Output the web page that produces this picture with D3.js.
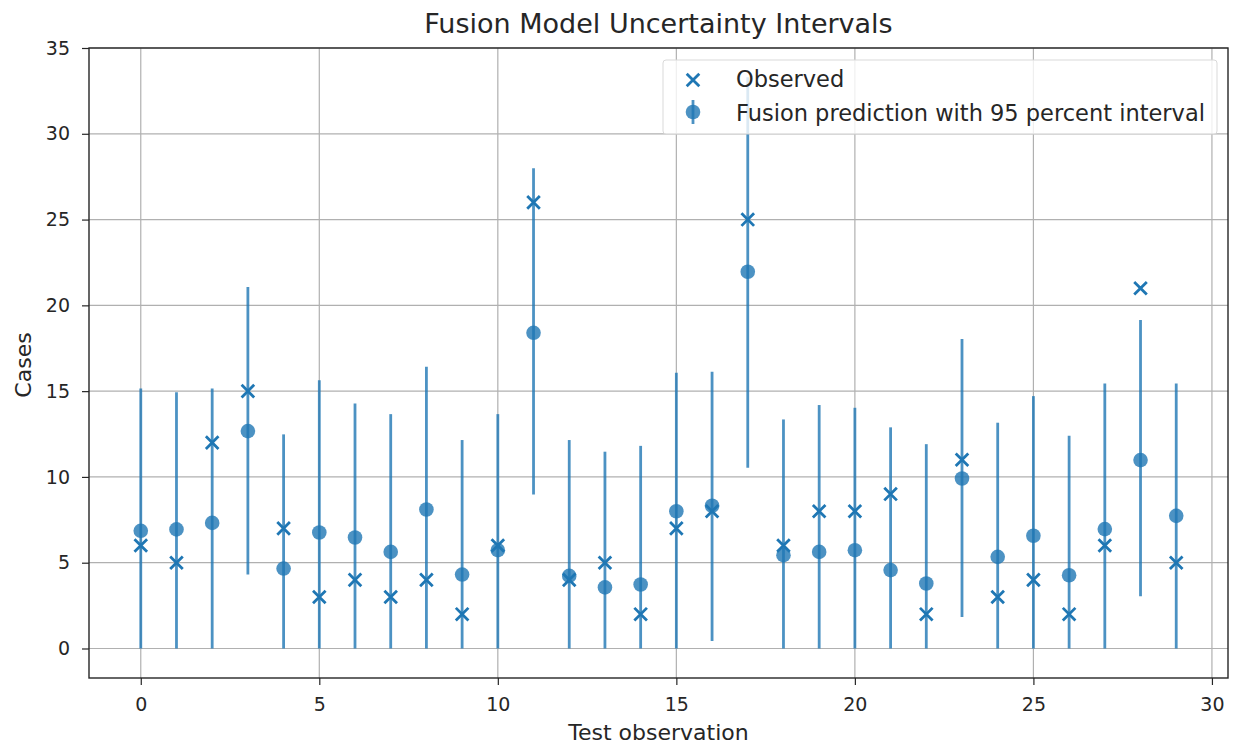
<!DOCTYPE html>
<html>
<head>
<meta charset="utf-8">
<script src="https://cdn.jsdelivr.net/npm/d3@7"></script>
<style>
  body { margin: 0; background: #fff; }
  svg text { font-family: "DejaVu Sans", sans-serif; fill: #262626; }
</style>
</head>
<body>
<div id="chart"></div>
<script>
// Dados
const obsIndex = d3.range(30);
const observed = [6, 5, 12, 15, 7, 3, 4, 3, 4, 2, 6, 26, 4, 5, 2, 7, 8, 25, 6, 8, 8, 9, 2, 11, 3, 4, 2, 6, 21, 5];
const predicted = [6.86, 6.94, 7.32, 12.67, 4.66, 6.76, 6.47, 5.63, 8.1, 4.31, 5.73, 18.4, 4.23, 3.56, 3.73, 8.0, 8.32, 21.96, 5.44, 5.63, 5.73, 4.57, 3.79, 9.91, 5.34, 6.57, 4.27, 6.96, 10.98, 7.73];
const lower = [0, 0, 0, 4.31, 0, 0, 0, 0, 0, 0, 0, 8.98, 0, 0, 0, 0, 0.44, 10.53, 0, 0, 0, 0, 0, 1.84, 0, 0, 0, 0, 3.05, 0];
const upper = [15.16, 14.93, 15.16, 21.07, 12.48, 15.64, 14.28, 13.66, 16.42, 12.15, 13.66, 27.99, 12.15, 11.47, 11.81, 16.07, 16.13, 33.3, 13.35, 14.19, 14.03, 12.89, 11.91, 18.04, 13.16, 14.71, 12.4, 15.45, 19.14, 15.45];
const xTicks = [0, 5, 10, 15, 20, 25, 30];
const yTicks = [0, 5, 10, 15, 20, 25, 30, 35];

const blue = "#1f77b4";

// Definições do gráfico
const W = 1233, H = 746;
const margin = { top: 48, right: 5, bottom: 68, left: 89 };
const width = W - margin.left - margin.right;
const height = H - margin.top - margin.bottom;

const svg = d3.select("#chart")
    .append("svg")
    .attr("width", W)
    .attr("height", H);

const g = svg.append("g")
    .attr("transform", `translate(${margin.left},${margin.top})`);

// Escalas
const x = d3.scaleLinear().domain([-1.45, 30.45]).range([0, width]);
const y = d3.scaleLinear().domain([-1.72, 35]).range([height, 0]);

// Grade
g.append("g")
    .selectAll("line")
    .data(xTicks)
    .join("line")
    .attr("x1", d => x(d)).attr("x2", d => x(d))
    .attr("y1", 0).attr("y2", height)
    .attr("stroke", "#b0b0b0").attr("stroke-width", 1.2);

g.append("g")
    .selectAll("line")
    .data(yTicks)
    .join("line")
    .attr("x1", 0).attr("x2", width)
    .attr("y1", d => y(d)).attr("y2", d => y(d))
    .attr("stroke", "#b0b0b0").attr("stroke-width", 1.2);

const data = obsIndex.map((i) => ({
    i, obs: observed[i], pred: predicted[i], lo: lower[i], hi: upper[i]
}));

// Barras de erro
g.append("g")
    .selectAll("line")
    .data(data)
    .join("line")
    .attr("x1", d => x(d.i)).attr("x2", d => x(d.i))
    .attr("y1", d => y(d.lo)).attr("y2", d => y(d.hi))
    .attr("stroke", blue).attr("stroke-opacity", 0.8)
    .attr("stroke-width", 2.8);

// Pontos previstos
g.append("g")
    .selectAll("circle")
    .data(data)
    .join("circle")
    .attr("cx", d => x(d.i))
    .attr("cy", d => y(d.pred))
    .attr("r", 7.3)
    .attr("fill", blue).attr("fill-opacity", 0.8);

// Observados (x)
const s = 6.3;
g.append("g")
    .selectAll("path")
    .data(data)
    .join("path")
    .attr("d", d => {
        const cx = x(d.i), cy = y(d.obs);
        return `M${cx - s},${cy - s}L${cx + s},${cy + s}M${cx - s},${cy + s}L${cx + s},${cy - s}`;
    })
    .attr("stroke", blue).attr("stroke-width", 2.8)
    .attr("fill", "none");

// Eixos
const xAxis = d3.axisBottom(x).tickValues(xTicks).tickSize(7).tickPadding(13).tickFormat(d3.format("d"));
const yAxis = d3.axisLeft(y).tickValues(yTicks).tickSize(7).tickPadding(12).tickFormat(d3.format("d"));

const gx = g.append("g")
    .attr("transform", `translate(0,${height})`)
    .call(xAxis);
const gy = g.append("g").call(yAxis);

[gx, gy].forEach(a => {
    a.select(".domain").remove();
    a.selectAll(".tick line").attr("stroke", "#262626").attr("stroke-width", 1.2);
    a.selectAll(".tick text").style("font-size", "19px").style("fill", "#262626")
        .style("font-family", "DejaVu Sans, sans-serif");
});

// Moldura
g.append("rect")
    .attr("x", 0).attr("y", 0)
    .attr("width", width).attr("height", height)
    .attr("fill", "none").attr("stroke", "#262626").attr("stroke-width", 1.4);

// Legenda
const lg = g.append("g").attr("transform", `translate(${663 - margin.left},${60 - margin.top})`);
lg.append("rect")
    .attr("width", 554).attr("height", 74).attr("rx", 3)
    .attr("fill", "#fff").attr("fill-opacity", 0.8)
    .attr("stroke", "#d9d9d9").attr("stroke-width", 1);

const lx = 30;
lg.append("path")
    .attr("d", `M${lx - s},${20 - s}L${lx + s},${20 + s}M${lx - s},${20 + s}L${lx + s},${20 - s}`)
    .attr("stroke", blue).attr("stroke-width", 2.8);
lg.append("line")
    .attr("x1", lx).attr("x2", lx).attr("y1", 52 - 12).attr("y2", 52 + 12)
    .attr("stroke", blue).attr("stroke-opacity", 0.8).attr("stroke-width", 2.8);
lg.append("circle")
    .attr("cx", lx).attr("cy", 52).attr("r", 7.3)
    .attr("fill", blue).attr("fill-opacity", 0.8);

lg.append("text").attr("x", 73).attr("y", 27).style("font-size", "22.5px").text("Observed");
lg.append("text").attr("x", 73).attr("y", 60.5).style("font-size", "22.5px").text("Fusion prediction with 95 percent interval");

// Títulos
svg.append("text")
    .attr("x", margin.left + width / 2).attr("y", 33)
    .attr("text-anchor", "middle")
    .style("font-size", "27px")
    .text("Fusion Model Uncertainty Intervals");

svg.append("text")
    .attr("x", margin.left + width / 2).attr("y", 740)
    .attr("text-anchor", "middle")
    .style("font-size", "22px")
    .text("Test observation");

svg.append("text")
    .attr("transform", `translate(31,${margin.top + height / 2 + 2}) rotate(-90)`)
    .attr("text-anchor", "middle")
    .style("font-size", "22px")
    .text("Cases");
</script>
</body>
</html>
